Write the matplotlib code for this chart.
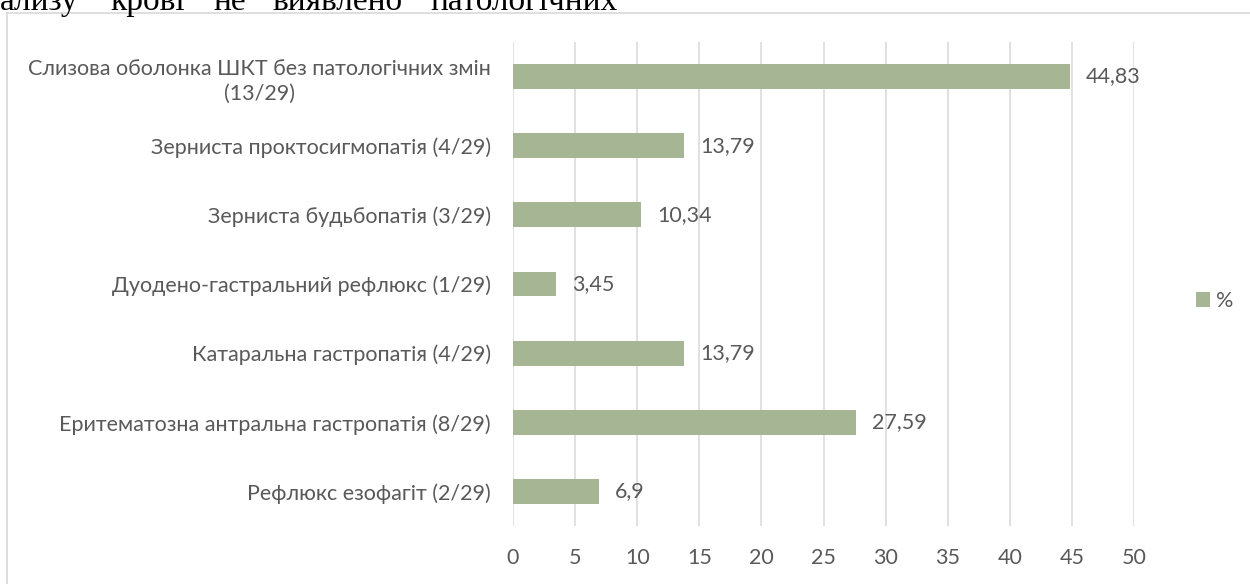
import matplotlib.pyplot as plt
import matplotlib.lines as mlines

categories = [
    "Слизова оболонка ШКТ без патологічних змін\n(13/29)",
    "Зерниста проктосигмопатія (4/29)",
    "Зерниста будьбопатія (3/29)",
    "Дуодено-гастральний рефлюкс (1/29)",
    "Катаральна гастропатія (4/29)",
    "Еритематозна антральна гастропатія (8/29)",
    "Рефлюкс езофагіт (2/29)",
]
values = [44.83, 13.79, 10.34, 3.45, 13.79, 27.59, 6.9]
value_labels = ["44,83", "13,79", "10,34", "3,45", "13,79", "27,59", "6,9"]
xticks = [0, 5, 10, 15, 20, 25, 30, 35, 40, 45, 50]
top_words = ["ализу", "крові", "не", "виявлено", "патологічних"]
top_word_x = [0, 110, 213, 272, 430]

bar_color = "#a6b593"
text_color = "#595959"
grid_color = "#d9d9d9"
font = "Lato"
fs = 15.5

fig = plt.figure(figsize=(12.5, 5.84), dpi=100)
ax = fig.add_axes([0.4104, 0.0993, 0.4968, 0.8288])

ypos = list(range(len(categories)))
ax.barh(ypos, values, height=0.36, color=bar_color, zorder=3, label="%")
ax.set_ylim(len(categories) - 0.5, -0.5)
ax.set_xlim(0, 50)
ax.set_xticks(xticks)
ax.set_xticklabels([str(t) for t in xticks], color=text_color, fontsize=fs, family=font)
ax.set_yticks(ypos)
ax.set_yticklabels(categories, color=text_color, fontsize=fs, family=font, ha="right")
for t in ax.get_yticklabels():
    t.set_multialignment("center")
    t.set_linespacing(1.35)
ax.tick_params(axis="y", length=0, pad=16)
ax.tick_params(axis="x", length=0, pad=16)
ax.grid(axis="x", color=grid_color, lw=1.1, zorder=0)
for s in ax.spines.values():
    s.set_visible(False)

for y, v, lab in zip(ypos, values, value_labels):
    ax.annotate(lab, (v, y), xytext=(11.5, 0), textcoords="offset points",
                va="center", ha="left", color=text_color, fontsize=fs, family=font)

leg = fig.legend(loc="center left", bbox_to_anchor=(1196 / 1250, 1 - 301 / 584),
                 frameon=False, borderpad=0, borderaxespad=0,
                 handlelength=0.65, handleheight=0.65, handletextpad=0.3,
                 prop={"family": font, "size": fs})
for t in leg.get_texts():
    t.set_color(text_color)

# chart area border
fig.add_artist(mlines.Line2D([7 / 1250, 7 / 1250], [0, 1 - 13 / 584],
                             transform=fig.transFigure, color=grid_color, lw=1.2))
fig.add_artist(mlines.Line2D([7 / 1250, 1], [1 - 13 / 584, 1 - 13 / 584],
                             transform=fig.transFigure, color=grid_color, lw=1.2))

# cut-off document text above the chart
for w, x in zip(top_words, top_word_x):
    fig.text(x / 1250, 1 - 10 / 584, w, family="Liberation Serif", fontsize=24,
             color="black", ha="left", va="baseline")

fig.savefig("out.png", dpi=100, facecolor="white")
